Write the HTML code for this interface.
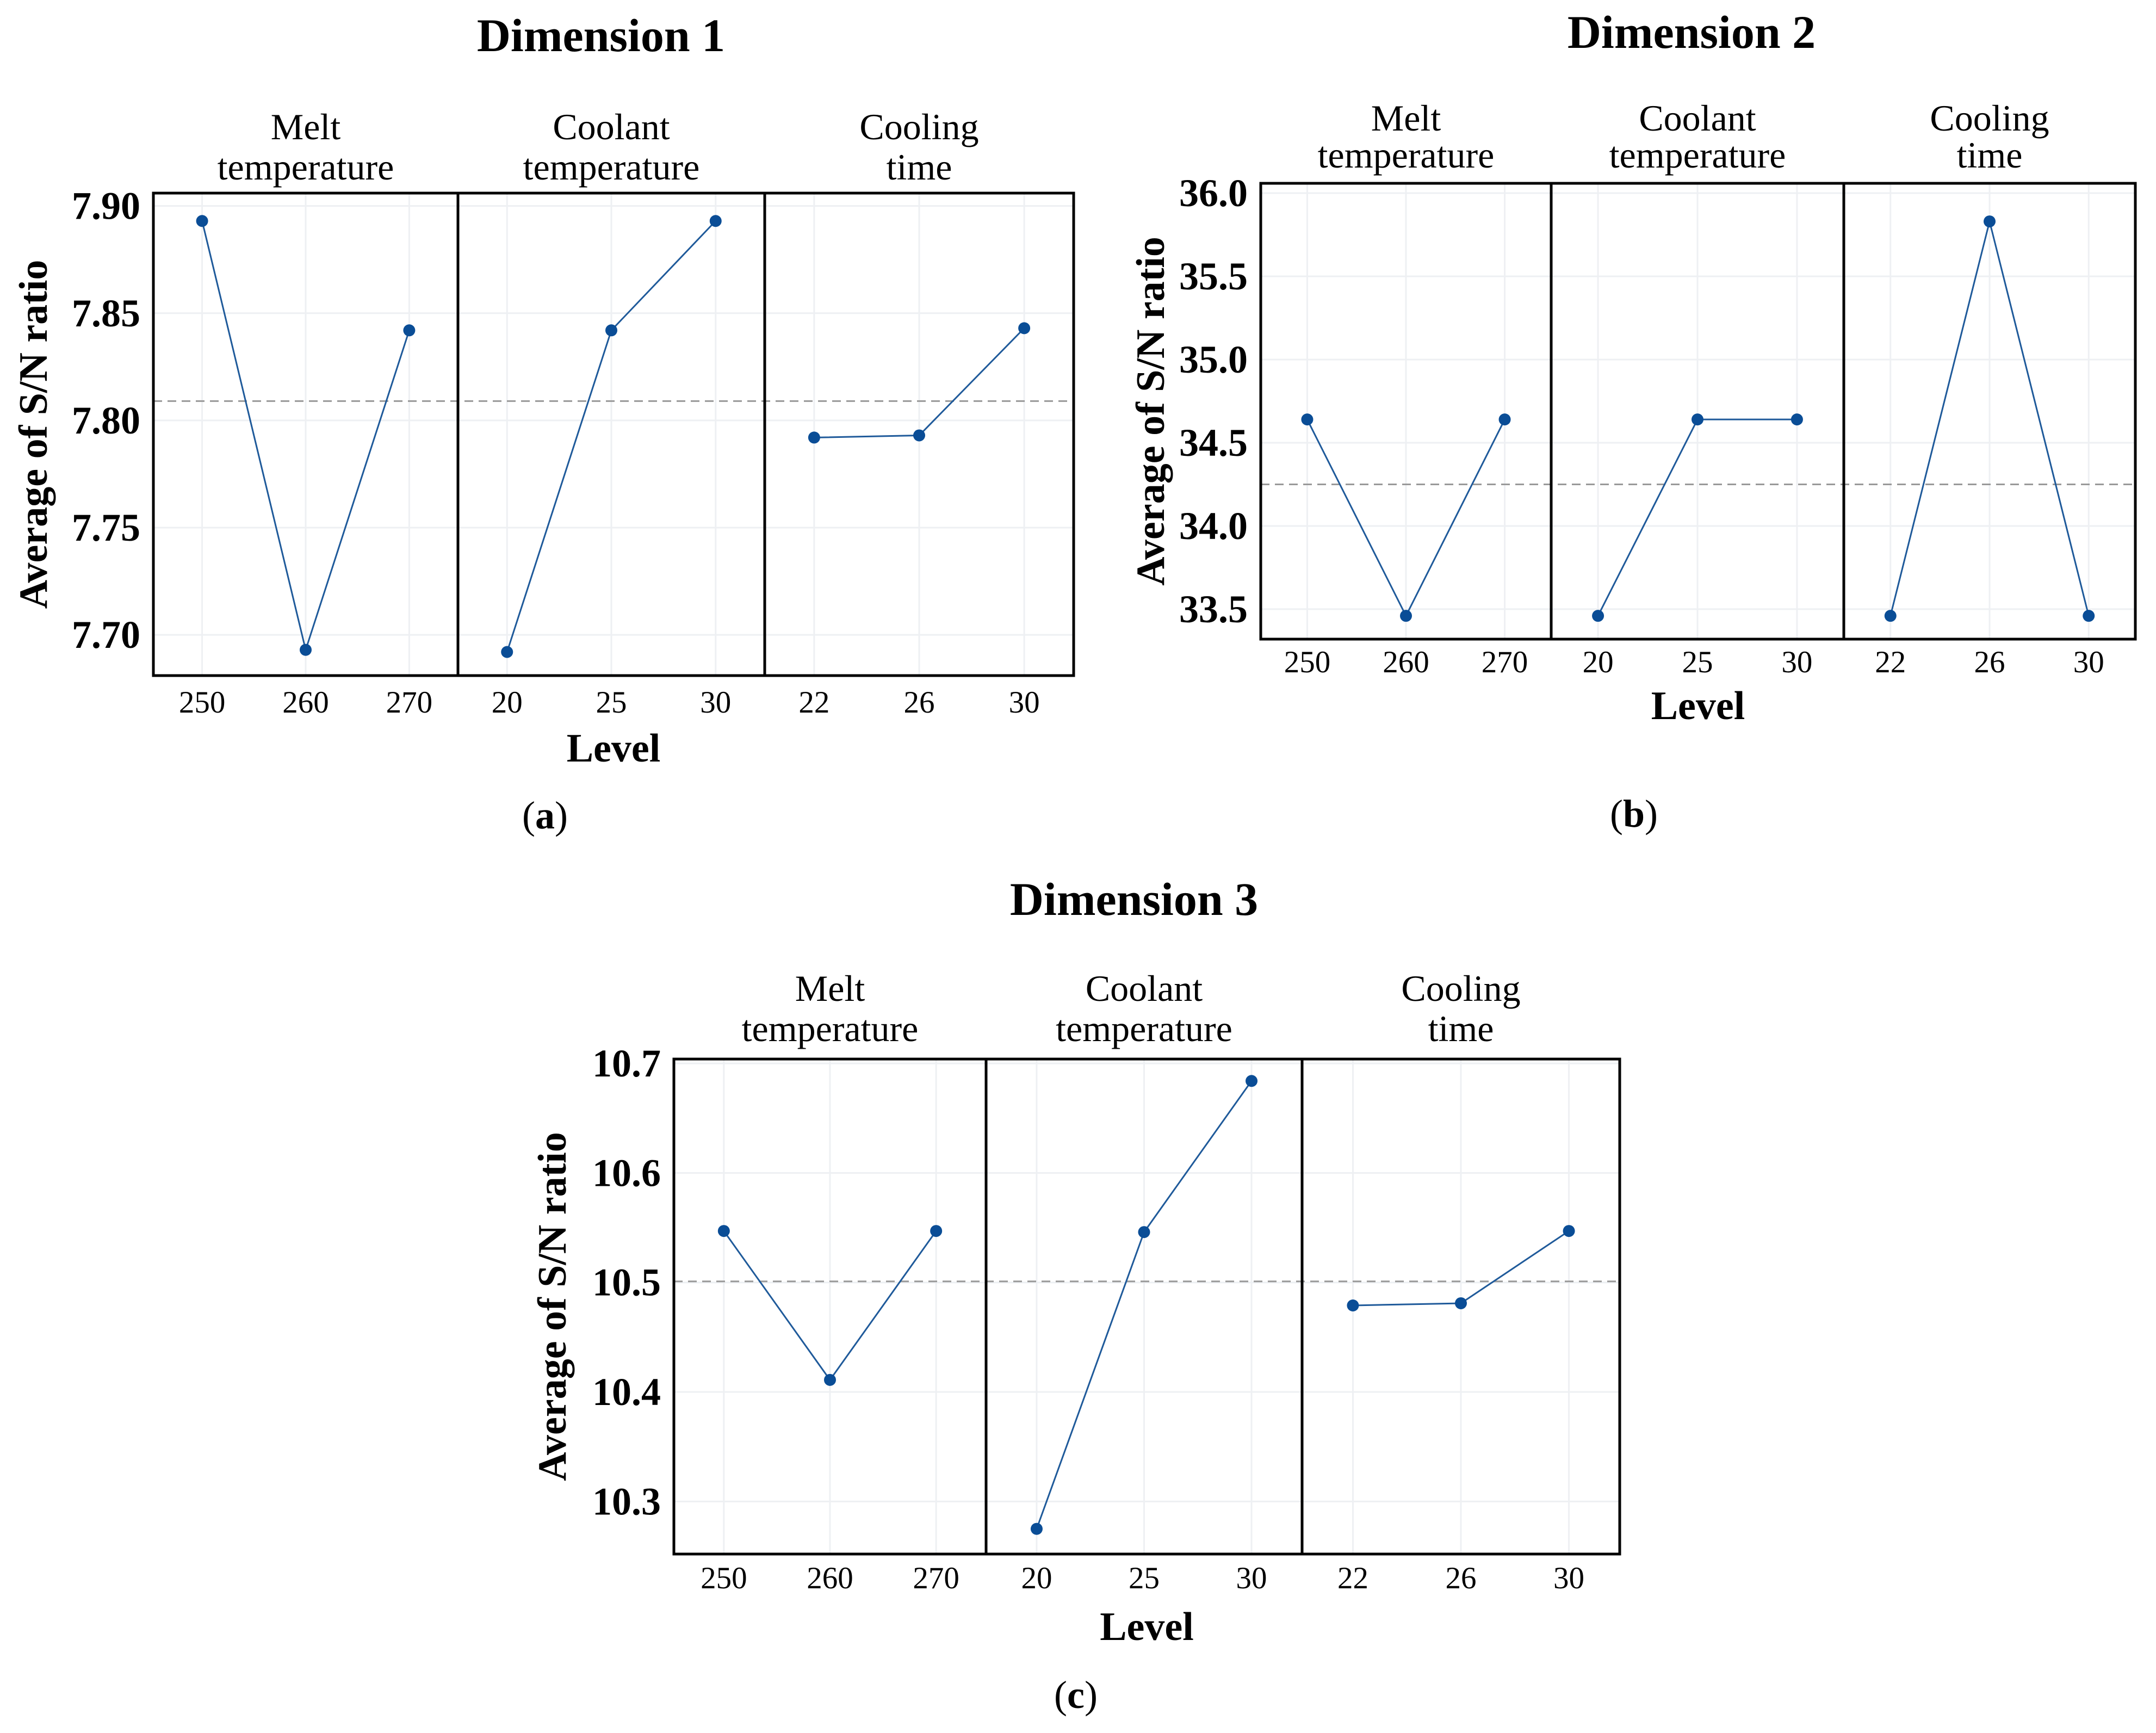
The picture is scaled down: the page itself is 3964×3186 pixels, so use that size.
<!DOCTYPE html>
<html><head><meta charset="utf-8">
<style>
html,body{margin:0;padding:0;background:#fff;}
svg{display:block;}
text{font-family:"Liberation Serif",serif;fill:#000;}
</style></head>
<body>
<svg id="fig" width="3964" height="3186" viewBox="0 0 3964 3186" xmlns="http://www.w3.org/2000/svg"></svg>
<script>
// ---- data ----
const panelTitles1 = ["Melt", "Coolant", "Cooling"];
const panelTitles2 = ["temperature", "temperature", "time"];
const levelsMelt = ["250", "260", "270"];
const levelsCoolant = ["20", "25", "30"];
const levelsTime = ["22", "26", "30"];
const dim1Melt = [7.893, 7.693, 7.842];
const dim1Coolant = [7.692, 7.842, 7.893];
const dim1Time = [7.792, 7.793, 7.843];
const dim1Mean = 7.809;
const dim1Ticks = [7.70, 7.75, 7.80, 7.85, 7.90];
const dim2Melt = [34.64, 33.46, 34.64];
const dim2Coolant = [33.46, 34.64, 34.64];
const dim2Time = [33.46, 35.83, 33.46];
const dim2Mean = 34.25;
const dim2Ticks = [33.5, 34.0, 34.5, 35.0, 35.5, 36.0];
const dim3Melt = [10.547, 10.411, 10.547];
const dim3Coolant = [10.275, 10.546, 10.684];
const dim3Time = [10.479, 10.481, 10.547];
const dim3Mean = 10.501;
const dim3Ticks = [10.3, 10.4, 10.5, 10.6, 10.7];

const NS = "http://www.w3.org/2000/svg";
const svg = document.getElementById("fig");
function el(tag, attrs, parent, txt) {
  const e = document.createElementNS(NS, tag);
  for (const k in attrs) e.setAttribute(k, attrs[k]);
  if (txt !== undefined) e.textContent = txt;
  (parent || svg).appendChild(e);
  return e;
}

function chart(cfg) {
  const g = el("g", {});
  
  
  const L = cfg.left, R = cfg.right, T = cfg.top, B = cfg.bottom;
  const divs = [L, cfg.d1, cfg.d2, R];
  const y = v => B - (v - cfg.ymin) / (cfg.ymax - cfg.ymin) * (B - T);
  const fr = [0.16, 0.5, 0.84];
  const px = (p, i) => divs[p] + fr[i] * (divs[p + 1] - divs[p]);
  const series = [cfg.melt, cfg.coolant, cfg.time];
  const levels = [levelsMelt, levelsCoolant, levelsTime];
  const t = el("text", {x: cfg.titleX, y: cfg.titleY, "text-anchor": "middle", "font-size": 86, "font-weight": "bold"}, g, cfg.title);
  
  
  cfg.ticks.forEach(v => {
    const gl = el("line", {x1: L, x2: R, y1: y(v), y2: y(v), stroke: "#eef0f3", "stroke-width": 3}, g);
    
    
  });
  for (let p = 0; p < 3; p++) for (let i = 0; i < 3; i++) {
    const gl = el("line", {x1: px(p, i), x2: px(p, i), y1: T, y2: B, stroke: "#eef0f3", "stroke-width": 3}, g);
    
    
  }
  const ml = el("line", {x1: L, x2: R, y1: y(cfg.mean), y2: y(cfg.mean), stroke: "#999", "stroke-width": 3, "stroke-dasharray": "16,10"}, g);
  
  
  for (let p = 0; p < 3; p++) {
    const cx = (divs[p] + divs[p + 1]) / 2;
    const a = el("text", {x: cx, y: cfg.pt1Y, "text-anchor": "middle", "font-size": 68}, g, panelTitles1[p]);
    
    
    const b = el("text", {x: cx, y: cfg.pt2Y, "text-anchor": "middle", "font-size": 68}, g, panelTitles2[p]);
    
    
    const pts = series[p].map((v, i) => px(p, i) + "," + y(v)).join(" ");
    const line = el("polyline", {points: pts, fill: "none", stroke: "#1f5a9a", "stroke-width": 3}, g);
    
    
    series[p].forEach((v, i) => {
      const c = el("circle", {cx: px(p, i), cy: y(v), r: 11, fill: "#0a4d96"}, g);
      
      
      const tl = el("text", {x: px(p, i), y: cfg.xtickY, "text-anchor": "middle", "font-size": 57}, g, levels[p][i]);
      
      
    });
  }
  const fr1 = el("rect", {x: L, y: T, width: R - L, height: B - T, fill: "none", stroke: "#000", "stroke-width": 5}, g);
  
  
  [cfg.d1, cfg.d2].forEach(d => {
    const dl = el("line", {x1: d, x2: d, y1: T, y2: B, stroke: "#000", "stroke-width": 5}, g);
    
    
  });
  cfg.ticks.forEach(v => {
    const tl = el("text", {x: L - 24, y: y(v) + 24, "text-anchor": "end", "font-size": 72, "font-weight": "bold"}, g, cfg.fmt(v));
    
    
  });
  const yt = el("text", {x: 0, y: 0, "text-anchor": "middle", "font-size": 74, "font-weight": "bold", transform: `translate(${cfg.ytX},${(T + B) / 2}) rotate(-90)`}, g, "Average of S/N ratio");
  
  
  const xt = el("text", {x: (L + R) / 2, y: cfg.levelY, "text-anchor": "middle", "font-size": 74, "font-weight": "bold"}, g, "Level");
  
  
  const cap = el("text", {x: cfg.capX, y: cfg.capY, "text-anchor": "middle", "font-size": 72}, g);
  
  
  el("tspan", {}, cap, "(");
  el("tspan", {"font-weight": "bold"}, cap, cfg.cap);
  el("tspan", {}, cap, ")");
}

chart({name: "chart-dimension-1", title: "Dimension 1", titleX: 1105, titleY: 94,
  left: 282, right: 1974, top: 355, bottom: 1242, d1: 842, d2: 1406,
  ymin: 7.681, ymax: 7.906, ticks: dim1Ticks, fmt: v => v.toFixed(2),
  melt: dim1Melt, coolant: dim1Coolant, time: dim1Time, mean: dim1Mean,
  pt1Y: 256, pt2Y: 330, xtickY: 1310, levelY: 1400, ytX: 86, capX: 1002, capY: 1523, cap: "a"});

chart({name: "chart-dimension-2", title: "Dimension 2", titleX: 3110, titleY: 88,
  left: 2318, right: 3926, top: 337, bottom: 1175, d1: 2852, d2: 3390,
  ymin: 33.32, ymax: 36.059, ticks: dim2Ticks, fmt: v => v.toFixed(1),
  melt: dim2Melt, coolant: dim2Coolant, time: dim2Time, mean: dim2Mean,
  pt1Y: 240, pt2Y: 308, xtickY: 1236, levelY: 1322, ytX: 2140, capX: 3004, capY: 1520, cap: "b"});

chart({name: "chart-dimension-3", title: "Dimension 3", titleX: 2085, titleY: 1682,
  left: 1239, right: 2978, top: 1947, bottom: 2857, d1: 1813, d2: 2394,
  ymin: 10.252, ymax: 10.704, ticks: dim3Ticks, fmt: v => v.toFixed(1),
  melt: dim3Melt, coolant: dim3Coolant, time: dim3Time, mean: dim3Mean,
  pt1Y: 1840, pt2Y: 1914, xtickY: 2920, levelY: 3015, ytX: 1040, capX: 1978, capY: 3140, cap: "c"});
</script>
</body></html>
